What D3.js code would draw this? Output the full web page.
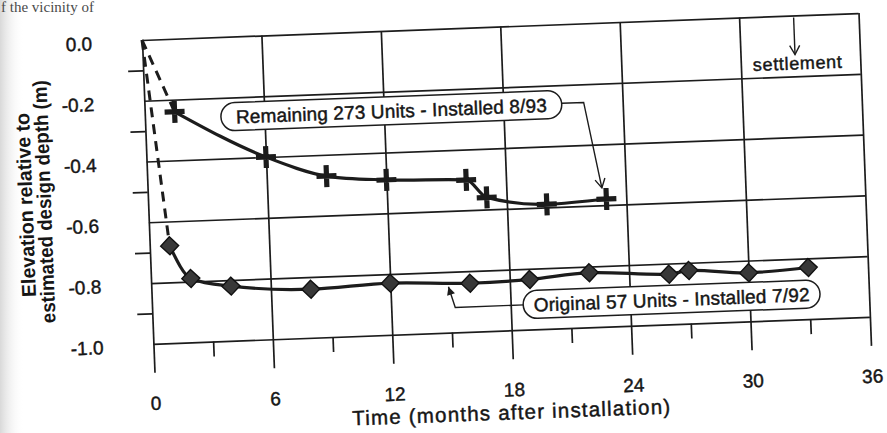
<!DOCTYPE html>
<html>
<head>
<meta charset="utf-8">
<script src="https://cdn.jsdelivr.net/npm/d3@7"></script>
<style>
  html, body { margin: 0; padding: 0; background: #fff; }
  svg { display: block; }
  text { font-family: "Liberation Sans", Arial, Helvetica, sans-serif; fill: #161616; }
  .ink { stroke: #161616; stroke-width: 0.45px; paint-order: stroke; }
</style>
</head>
<body>
<div id="vis"></div>
<script>
(function () {
  'use strict';

  // axis ticks
  var monthTicks = [0, 6, 12, 18, 24, 30, 36];
  var monthLabels = ['0', '6', '12', '18', '24', '30', '36'];
  var monthMinor = [3, 9, 15, 21, 27, 33];
  var elevTicks = [0, -0.2, -0.4, -0.6, -0.8, -1.0];
  var elevLabels = ['0.0', '-0.2', '-0.4', '-0.6', '-0.8', '-1.0'];
  var elevMinor = [-0.1, -0.3, -0.5, -0.7, -0.9];

  // Original 57 units - installed 7/92 (diamonds)
  var origMonths = [1, 2, 4, 8, 12, 16, 19, 22, 26, 27, 30, 33];
  var origElev = [-0.68, -0.79, -0.82, -0.84, -0.83, -0.84, -0.835, -0.82, -0.835, -0.825, -0.84, -0.83];

  // Remaining 273 units - installed 8/93 (crosses)
  var remMonths = [1.5, 6, 9, 12, 16, 17, 20, 23];
  var remElev = [-0.24, -0.40, -0.47, -0.49, -0.50, -0.56, -0.59, -0.58];

  // both start at the design depth at installation
  var startMonth = 0;
  var startElev = 0;

  var WIDTH = 887;
  var HEIGHT = 433;
  var PLOT_W = 717;
  var PLOT_H = 304;
  var TILT = -2.15; // the scanned page sits a little crooked
  var INK = '#1c1c1c';

  var svg = d3.select('#vis').append('svg')
    .attr('width', WIDTH)
    .attr('height', HEIGHT);

  var defs = svg.append('defs');
  var shade = defs.append('linearGradient').attr('id', 'shade');
  shade.append('stop').attr('offset', '0').attr('stop-color', '#b9b9b9');
  shade.append('stop').attr('offset', '1').attr('stop-color', '#fff').attr('stop-opacity', 0);
  defs.append('marker')
    .attr('id', 'vee')
    .attr('viewBox', '-10 -6 12 12')
    .attr('refX', 0).attr('refY', 0)
    .attr('markerWidth', 12).attr('markerHeight', 12)
    .attr('markerUnits', 'userSpaceOnUse')
    .attr('orient', 'auto')
    .append('path')
    .attr('d', 'M-9,-5L0,0L-9,5')
    .attr('fill', 'none')
    .attr('stroke', INK)
    .attr('stroke-width', 1.4);
  defs.append('marker')
    .attr('id', 'tri')
    .attr('viewBox', '-10 -6 12 12')
    .attr('refX', 0).attr('refY', 0)
    .attr('markerWidth', 11).attr('markerHeight', 11)
    .attr('markerUnits', 'userSpaceOnUse')
    .attr('orient', 'auto')
    .append('path')
    .attr('d', 'M-9,-4.5L0,0L-9,4.5Z')
    .attr('fill', INK);

  // scan shadow at the page edge, and the line of body text above the figure
  svg.append('rect')
    .attr('x', 0).attr('y', 0)
    .attr('width', 24).attr('height', HEIGHT)
    .attr('fill', 'url(#shade)')
    .attr('opacity', 0.55);
  svg.append('text')
    .attr('x', 1).attr('y', 12)
    .style('font-family', '"Liberation Serif", "DejaVu Serif", serif')
    .style('font-size', '15px')
    .style('fill', '#4a4a4a')
    .text('f the vicinity of');

  var g = svg.append('g')
    .attr('transform', 'translate(142,40) rotate(' + TILT + ')');

  var x = d3.scaleLinear().domain([0, 36]).range([0, PLOT_W]);
  var y = d3.scaleLinear().domain([-1, 0]).range([PLOT_H, 0]);

  // vertical grid lines, running past the bottom as long ticks
  var xAxis = g.append('g')
    .attr('transform', 'translate(0,' + PLOT_H + ')')
    .call(d3.axisBottom(x).tickValues(monthTicks).tickSize(29)
      .tickFormat(function (d, i) { return monthLabels[i]; }));
  xAxis.select('.domain').remove();
  xAxis.selectAll('line')
    .attr('y1', -PLOT_H)
    .attr('stroke', INK)
    .attr('stroke-width', 1.7);
  xAxis.selectAll('text')
    .attr('class', 'ink')
    .attr('y', 66)
    .attr('dy', 0)
    .attr('fill', INK)
    .style('font-size', '19px')
    .style('font-family', '"Liberation Sans", Arial, sans-serif');

  var xMinor = g.append('g')
    .attr('transform', 'translate(0,' + PLOT_H + ')')
    .call(d3.axisBottom(x).tickValues(monthMinor).tickSize(15).tickFormat(''));
  xMinor.select('.domain').remove();
  xMinor.selectAll('line').attr('stroke', INK).attr('stroke-width', 1.7);

  // horizontal grid lines, running past the left edge as long ticks
  var yAxis = g.append('g')
    .call(d3.axisLeft(y).tickValues(elevTicks).tickSize(32)
      .tickFormat(function (d, i) { return elevLabels[i]; }));
  yAxis.select('.domain').remove();
  yAxis.selectAll('line')
    .attr('x2', PLOT_W)
    .attr('stroke', INK)
    .attr('stroke-width', 1.7);
  yAxis.selectAll('text')
    .attr('class', 'ink')
    .attr('x', -50)
    .attr('dy', 0)
    .attr('y', 8)
    .attr('fill', INK)
    .style('font-size', '19px')
    .style('font-family', '"Liberation Sans", Arial, sans-serif');

  var yMinor = g.append('g')
    .call(d3.axisLeft(y).tickValues(elevMinor).tickSize(15).tickFormat(''));
  yMinor.select('.domain').remove();
  yMinor.selectAll('line').attr('stroke', INK).attr('stroke-width', 1.7);

  // axis titles
  g.append('text')
    .attr('transform', 'translate(-115.5,160.5) rotate(-90)')
    .attr('text-anchor', 'middle')
    .attr('textLength', 184)
    .attr('lengthAdjust', 'spacingAndGlyphs')
    .style('font-size', '20px')
    .style('font-weight', 'bold')
    .text('Elevation relative to');
  g.append('text')
    .attr('transform', 'translate(-97,158) rotate(-90)')
    .attr('text-anchor', 'middle')
    .attr('textLength', 243)
    .attr('lengthAdjust', 'spacingAndGlyphs')
    .style('font-size', '20px')
    .style('font-weight', 'bold')
    .text('estimated design depth (m)');
  g.append('text')
    .attr('class', 'ink')
    .attr('x', 355).attr('y', 393)
    .attr('text-anchor', 'middle')
    .attr('textLength', 318)
    .attr('lengthAdjust', 'spacing')
    .style('font-size', '20.5px')
    .text('Time (months after installation)');

  var line = d3.line()
    .x(function (d) { return x(d[0]); })
    .y(function (d) { return y(d[1]); });
  var smooth = d3.line()
    .x(function (d) { return x(d[0]); })
    .y(function (d) { return y(d[1]); })
    .curve(d3.curveMonotoneX);

  var orig = d3.zip(origMonths, origElev);
  var rem = d3.zip(remMonths, remElev);

  // dashed drop right after installation
  [orig, rem].forEach(function (series) {
    g.append('path')
      .attr('d', line([[startMonth, startElev], series[0]]))
      .attr('fill', 'none')
      .attr('stroke', INK)
      .attr('stroke-width', 3)
      .attr('stroke-dasharray', '10,7');
  });

  [orig, rem].forEach(function (series) {
    g.append('path')
      .attr('d', smooth(series))
      .attr('fill', 'none')
      .attr('stroke', INK)
      .attr('stroke-width', 3.2);
  });

  g.selectAll('.diamond')
    .data(orig)
    .enter().append('path')
    .attr('class', 'diamond')
    .attr('transform', function (d) { return 'translate(' + x(d[0]) + ',' + y(d[1]) + ')'; })
    .attr('d', 'M0,-9L9,0L0,9L-9,0Z')
    .attr('fill', '#383838')
    .attr('stroke', '#111')
    .attr('stroke-width', 1.4);

  g.selectAll('.cross')
    .data(rem)
    .enter().append('path')
    .attr('class', 'cross')
    .attr('transform', function (d) { return 'translate(' + x(d[0]) + ',' + y(d[1]) + ')'; })
    .attr('d', 'M-10,0H10M0,-11V11')
    .attr('fill', 'none')
    .attr('stroke', INK)
    .attr('stroke-width', 5.2);

  // rounded call-out labels
  function callout(x0, x1, cy, label, textLen) {
    g.append('rect')
      .attr('x', x0).attr('y', cy - 14)
      .attr('width', x1 - x0).attr('height', 28)
      .attr('rx', 14).attr('ry', 14)
      .attr('fill', '#fff')
      .attr('stroke', INK)
      .attr('stroke-width', 1.5);
    g.append('text')
      .attr('class', 'ink')
      .attr('x', (x0 + x1) / 2).attr('y', cy + 7)
      .attr('text-anchor', 'middle')
      .attr('textLength', textLen)
      .attr('lengthAdjust', 'spacing')
      .style('font-size', '19px')
      .text(label);
  }

  g.append('path')
    .attr('d', 'M417,79H439L454,165')
    .attr('fill', 'none')
    .attr('stroke', INK)
    .attr('stroke-width', 1.4)
    .attr('marker-end', 'url(#vee)');
  callout(76, 417, 80, 'Remaining 273 Units - Installed 8/93', 311);

  g.append('path')
    .attr('d', 'M372,279H303L297,258')
    .attr('fill', 'none')
    .attr('stroke', INK)
    .attr('stroke-width', 1.4)
    .attr('marker-end', 'url(#tri)');
  callout(371, 668, 279, 'Original 57 Units - Installed 7/92', 276);

  // settlement direction
  g.append('path')
    .attr('d', 'M652,2V39')
    .attr('stroke', INK)
    .attr('stroke-width', 1.4)
    .attr('marker-end', 'url(#vee)');
  g.append('text')
    .attr('class', 'ink')
    .attr('x', 654).attr('y', 54)
    .attr('text-anchor', 'middle')
    .attr('textLength', 89)
    .attr('lengthAdjust', 'spacing')
    .style('font-size', '18px')
    .text('settlement');
})();
</script>
</body>
</html>
